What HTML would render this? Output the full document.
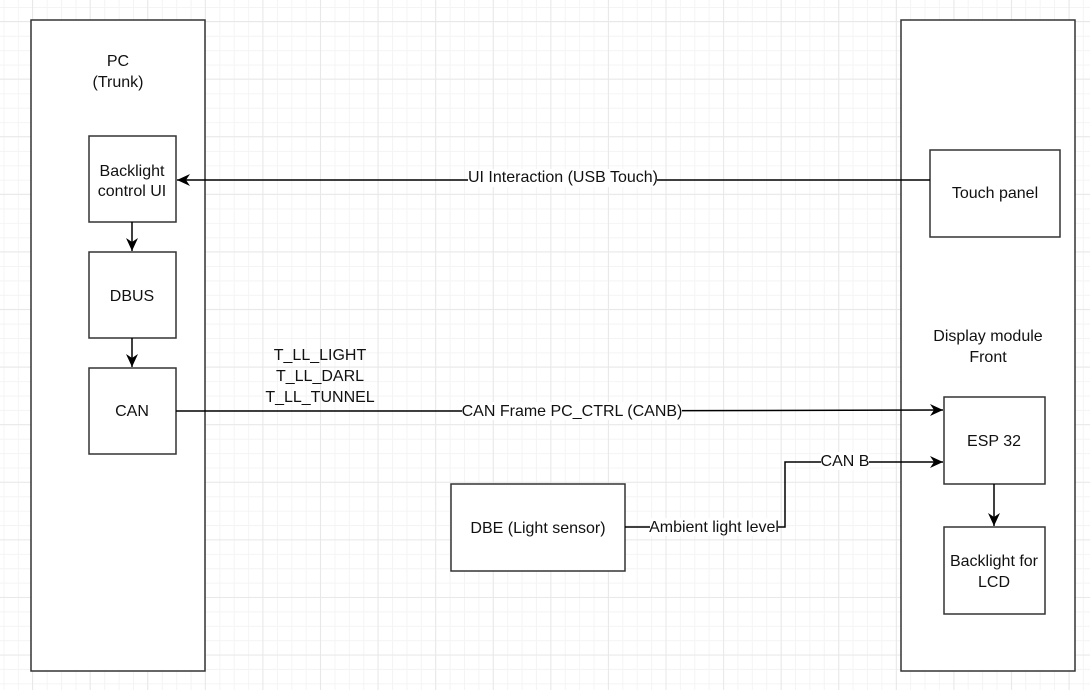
<!DOCTYPE html>
<html><head><style>
html,body{margin:0;padding:0;}
body{width:1090px;height:685px;overflow:hidden;background:#fff;
background-image:linear-gradient(#e8e8e8 1px,transparent 1px),linear-gradient(90deg,#e8e8e8 1px,transparent 1px),linear-gradient(#f4f4f4 1px,transparent 1px),linear-gradient(90deg,#f4f4f4 1px,transparent 1px);
background-size:57.6px 57.6px,57.6px 57.6px,14.4px 14.4px,14.4px 14.4px;
background-position:32px 21px,32px 21px,3.5px 7px,3.5px 7px;}
text{font-family:"Liberation Sans",sans-serif;font-size:16px;fill:#111;}
</style></head><body>
<svg width="1090" height="685" xmlns="http://www.w3.org/2000/svg">
<defs><marker id="a" markerWidth="14" markerHeight="14" refX="13" refY="6" orient="auto" markerUnits="userSpaceOnUse"><path d="M0,0 L13,6 L0,12 L4,6 Z" fill="#000"/></marker></defs>
<g fill="#fff" stroke="#333" stroke-width="1.5">
<rect x="31" y="20" width="174" height="651"/>
<rect x="901" y="20" width="174" height="651"/>
<rect x="89" y="136" width="87" height="86"/>
<rect x="89" y="252" width="87" height="86"/>
<rect x="89" y="368" width="87" height="86"/>
<rect x="930" y="150" width="130" height="87"/>
<rect x="944" y="397" width="101" height="87"/>
<rect x="944" y="527" width="101" height="87"/>
<rect x="451" y="484" width="174" height="87"/>
</g>
<g stroke="#000" stroke-width="1.5" fill="none">
<line x1="930" y1="180" x2="177" y2="180" marker-end="url(#a)"/>
<line x1="132" y1="222" x2="132" y2="251" marker-end="url(#a)"/>
<line x1="132" y1="338" x2="132" y2="367" marker-end="url(#a)"/>
<polyline points="176,411 560,411 943,410" marker-end="url(#a)"/>
<polyline points="625,527 785,527 785,462 943,462" marker-end="url(#a)"/>
<line x1="994" y1="484" x2="994" y2="526" marker-end="url(#a)"/>
</g>
<g text-anchor="middle">
<text x="118" y="66">PC</text><text x="118" y="87">(Trunk)</text>
<text x="132" y="176">Backlight</text><text x="132" y="196">control UI</text>
<text x="132" y="301">DBUS</text>
<text x="132" y="416">CAN</text>
<text x="995" y="198">Touch panel</text>
<text x="988" y="341">Display module</text><text x="988" y="362">Front</text>
<text x="994" y="446">ESP 32</text>
<text x="994" y="566">Backlight for</text><text x="994" y="587">LCD</text>
<text x="538" y="533">DBE (Light sensor)</text>
<text x="320" y="360">T_LL_LIGHT</text><text x="320" y="381">T_LL_DARL</text><text x="320" y="402">T_LL_TUNNEL</text>
</g>
<g>
<rect x="468" y="169" width="189" height="18" fill="#fff"/>
<text x="563" y="182" text-anchor="middle">UI Interaction (USB Touch)</text>
<rect x="462" y="402" width="220" height="18" fill="#fff"/>
<text x="572" y="416" text-anchor="middle">CAN Frame PC_CTRL (CANB)</text>
<rect x="821" y="452" width="48" height="18" fill="#fff"/>
<text x="845" y="466" text-anchor="middle">CAN B</text>
<rect x="650" y="518" width="128" height="18" fill="#fff"/>
<text x="714" y="532" text-anchor="middle">Ambient light level</text>
</g>
</svg>
</body></html>
